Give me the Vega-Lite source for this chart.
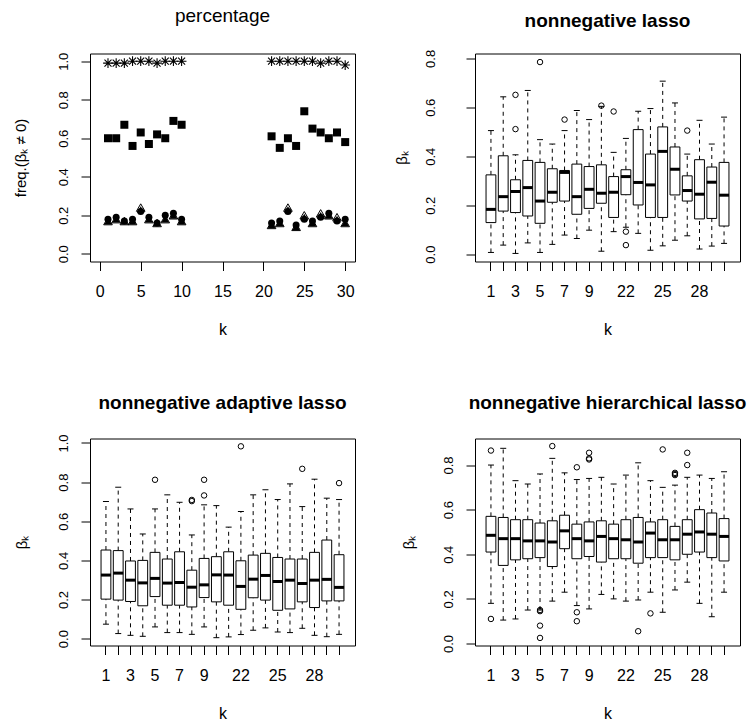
{
  "$schema": "https://vega.github.io/schema/vega-lite/v6.json",
  "background": "white",
  "autosize": {"type": "pad"},
  "padding": {"left": 12, "top": 5.5, "right": 0, "bottom": 0},
  "config": {
    "font": "Liberation Sans",
    "view": {"stroke": "black", "strokeWidth": 1, "fill": "white"},
    "axis": {"grid": false, "domain": false, "tickColor": "black", "tickSize": 9, "tickWidth": 1, "labelColor": "black", "titleColor": "black", "labelFont": "Liberation Sans", "titleFont": "Liberation Sans", "titleFontWeight": "normal", "labelFlush": false, "labelOverlap": false},
    "axisX": {"labelFontSize": 16, "labelPadding": 13, "labelBaseline": "top", "labelAngle": 0, "titleFontSize": 16, "titleY": 68, "titleBaseline": "middle"},
    "axisY": {"labelAngle": -90, "labelFontSize": 13, "labelAlign": "center", "labelBaseline": "alphabetic", "labelPadding": 14, "titleFontSize": 15, "titleX": -70, "titleBaseline": "middle", "titleAngle": -90},
    "title": {"fontSize": 19, "fontWeight": "bold", "frame": "group", "anchor": "middle", "baseline": "alphabetic", "color": "black", "font": "Liberation Sans"}
  },
  "datasets": {
    "freq": [
      {"k": 1, "series": "A", "value": 0.99}, {"k": 2, "series": "A", "value": 0.99}, {"k": 3, "series": "A", "value": 0.99}, {"k": 4, "series": "A", "value": 1.0}, {"k": 5, "series": "A", "value": 1.0},
      {"k": 6, "series": "A", "value": 1.0}, {"k": 7, "series": "A", "value": 0.99}, {"k": 8, "series": "A", "value": 1.0}, {"k": 9, "series": "A", "value": 1.0}, {"k": 10, "series": "A", "value": 1.0},
      {"k": 21, "series": "A", "value": 1.0}, {"k": 22, "series": "A", "value": 1.0}, {"k": 23, "series": "A", "value": 1.0}, {"k": 24, "series": "A", "value": 1.0}, {"k": 25, "series": "A", "value": 1.0},
      {"k": 26, "series": "A", "value": 1.0}, {"k": 27, "series": "A", "value": 0.99}, {"k": 28, "series": "A", "value": 1.0}, {"k": 29, "series": "A", "value": 1.0}, {"k": 30, "series": "A", "value": 0.98},
      {"k": 1, "series": "B", "value": 0.60}, {"k": 2, "series": "B", "value": 0.60}, {"k": 3, "series": "B", "value": 0.67}, {"k": 4, "series": "B", "value": 0.56}, {"k": 5, "series": "B", "value": 0.63},
      {"k": 6, "series": "B", "value": 0.57}, {"k": 7, "series": "B", "value": 0.62}, {"k": 8, "series": "B", "value": 0.60}, {"k": 9, "series": "B", "value": 0.69}, {"k": 10, "series": "B", "value": 0.67},
      {"k": 21, "series": "B", "value": 0.61}, {"k": 22, "series": "B", "value": 0.55}, {"k": 23, "series": "B", "value": 0.60}, {"k": 24, "series": "B", "value": 0.56}, {"k": 25, "series": "B", "value": 0.74},
      {"k": 26, "series": "B", "value": 0.65}, {"k": 27, "series": "B", "value": 0.63}, {"k": 28, "series": "B", "value": 0.60}, {"k": 29, "series": "B", "value": 0.63}, {"k": 30, "series": "B", "value": 0.58},
      {"k": 1, "series": "C", "value": 0.17}, {"k": 2, "series": "C", "value": 0.18}, {"k": 3, "series": "C", "value": 0.17}, {"k": 4, "series": "C", "value": 0.17}, {"k": 5, "series": "C", "value": 0.24},
      {"k": 6, "series": "C", "value": 0.18}, {"k": 7, "series": "C", "value": 0.16}, {"k": 8, "series": "C", "value": 0.18}, {"k": 9, "series": "C", "value": 0.20}, {"k": 10, "series": "C", "value": 0.17},
      {"k": 21, "series": "C", "value": 0.15}, {"k": 22, "series": "C", "value": 0.16}, {"k": 23, "series": "C", "value": 0.24}, {"k": 24, "series": "C", "value": 0.14}, {"k": 25, "series": "C", "value": 0.20},
      {"k": 26, "series": "C", "value": 0.16}, {"k": 27, "series": "C", "value": 0.21}, {"k": 28, "series": "C", "value": 0.20}, {"k": 29, "series": "C", "value": 0.19}, {"k": 30, "series": "C", "value": 0.16},
      {"k": 1, "series": "D", "value": 0.17}, {"k": 2, "series": "D", "value": 0.18}, {"k": 3, "series": "D", "value": 0.17}, {"k": 4, "series": "D", "value": 0.17}, {"k": 5, "series": "D", "value": 0.23},
      {"k": 6, "series": "D", "value": 0.18}, {"k": 7, "series": "D", "value": 0.16}, {"k": 8, "series": "D", "value": 0.18}, {"k": 9, "series": "D", "value": 0.20}, {"k": 10, "series": "D", "value": 0.17},
      {"k": 21, "series": "D", "value": 0.15}, {"k": 22, "series": "D", "value": 0.16}, {"k": 23, "series": "D", "value": 0.23}, {"k": 24, "series": "D", "value": 0.14}, {"k": 25, "series": "D", "value": 0.19},
      {"k": 26, "series": "D", "value": 0.16}, {"k": 27, "series": "D", "value": 0.20}, {"k": 28, "series": "D", "value": 0.20}, {"k": 29, "series": "D", "value": 0.18}, {"k": 30, "series": "D", "value": 0.16},
      {"k": 1, "series": "E", "value": 0.18}, {"k": 2, "series": "E", "value": 0.19}, {"k": 3, "series": "E", "value": 0.17}, {"k": 4, "series": "E", "value": 0.18}, {"k": 5, "series": "E", "value": 0.22},
      {"k": 6, "series": "E", "value": 0.19}, {"k": 7, "series": "E", "value": 0.16}, {"k": 8, "series": "E", "value": 0.20}, {"k": 9, "series": "E", "value": 0.21}, {"k": 10, "series": "E", "value": 0.18},
      {"k": 21, "series": "E", "value": 0.16}, {"k": 22, "series": "E", "value": 0.17}, {"k": 23, "series": "E", "value": 0.22}, {"k": 24, "series": "E", "value": 0.15}, {"k": 25, "series": "E", "value": 0.18},
      {"k": 26, "series": "E", "value": 0.17}, {"k": 27, "series": "E", "value": 0.19}, {"k": 28, "series": "E", "value": 0.21}, {"k": 29, "series": "E", "value": 0.17}, {"k": 30, "series": "E", "value": 0.18}
    ],
    "boxes": [
      {"method": "lasso", "k": 1, "lo": 0.007, "q1": 0.129, "med": 0.183, "q3": 0.324, "hi": 0.505},
      {"method": "lasso", "k": 2, "lo": 0.037, "q1": 0.176, "med": 0.235, "q3": 0.402, "hi": 0.643},
      {"method": "lasso", "k": 3, "lo": 0.003, "q1": 0.170, "med": 0.256, "q3": 0.304, "hi": 0.406},
      {"method": "lasso", "k": 4, "lo": 0.046, "q1": 0.156, "med": 0.272, "q3": 0.383, "hi": 0.669},
      {"method": "lasso", "k": 5, "lo": 0.007, "q1": 0.126, "med": 0.217, "q3": 0.375, "hi": 0.468},
      {"method": "lasso", "k": 6, "lo": 0.040, "q1": 0.212, "med": 0.253, "q3": 0.349, "hi": 0.450},
      {"method": "lasso", "k": 7, "lo": 0.078, "q1": 0.217, "med": 0.334, "q3": 0.342, "hi": 0.505},
      {"method": "lasso", "k": 8, "lo": 0.064, "q1": 0.163, "med": 0.235, "q3": 0.368, "hi": 0.587},
      {"method": "lasso", "k": 9, "lo": 0.098, "q1": 0.187, "med": 0.265, "q3": 0.358, "hi": 0.550},
      {"method": "lasso", "k": 10, "lo": 0.012, "q1": 0.208, "med": 0.249, "q3": 0.365, "hi": 0.604},
      {"method": "lasso", "k": 21, "lo": 0.092, "q1": 0.150, "med": 0.253, "q3": 0.317, "hi": 0.416},
      {"method": "lasso", "k": 22, "lo": 0.110, "q1": 0.243, "med": 0.317, "q3": 0.345, "hi": 0.473},
      {"method": "lasso", "k": 23, "lo": 0.085, "q1": 0.201, "med": 0.293, "q3": 0.509, "hi": 0.584},
      {"method": "lasso", "k": 24, "lo": 0.016, "q1": 0.150, "med": 0.283, "q3": 0.409, "hi": 0.595},
      {"method": "lasso", "k": 25, "lo": 0.034, "q1": 0.150, "med": 0.420, "q3": 0.520, "hi": 0.707},
      {"method": "lasso", "k": 26, "lo": 0.057, "q1": 0.242, "med": 0.347, "q3": 0.438, "hi": 0.618},
      {"method": "lasso", "k": 27, "lo": 0.075, "q1": 0.217, "med": 0.260, "q3": 0.320, "hi": 0.409},
      {"method": "lasso", "k": 28, "lo": 0.021, "q1": 0.144, "med": 0.245, "q3": 0.386, "hi": 0.547},
      {"method": "lasso", "k": 29, "lo": 0.033, "q1": 0.146, "med": 0.294, "q3": 0.356, "hi": 0.450},
      {"method": "lasso", "k": 30, "lo": 0.044, "q1": 0.115, "med": 0.241, "q3": 0.375, "hi": 0.560},
      {"method": "adaptive", "k": 1, "lo": 0.074, "q1": 0.202, "med": 0.325, "q3": 0.453, "hi": 0.701},
      {"method": "adaptive", "k": 2, "lo": 0.026, "q1": 0.197, "med": 0.335, "q3": 0.450, "hi": 0.774},
      {"method": "adaptive", "k": 3, "lo": 0.017, "q1": 0.190, "med": 0.299, "q3": 0.397, "hi": 0.663},
      {"method": "adaptive", "k": 4, "lo": 0.012, "q1": 0.168, "med": 0.285, "q3": 0.400, "hi": 0.535},
      {"method": "adaptive", "k": 5, "lo": 0.060, "q1": 0.215, "med": 0.308, "q3": 0.441, "hi": 0.663},
      {"method": "adaptive", "k": 6, "lo": 0.031, "q1": 0.171, "med": 0.284, "q3": 0.407, "hi": 0.735},
      {"method": "adaptive", "k": 7, "lo": 0.031, "q1": 0.171, "med": 0.287, "q3": 0.444, "hi": 0.697},
      {"method": "adaptive", "k": 8, "lo": 0.022, "q1": 0.162, "med": 0.263, "q3": 0.350, "hi": 0.530},
      {"method": "adaptive", "k": 9, "lo": 0.060, "q1": 0.210, "med": 0.275, "q3": 0.410, "hi": 0.684},
      {"method": "adaptive", "k": 10, "lo": 0.005, "q1": 0.188, "med": 0.326, "q3": 0.419, "hi": 0.680},
      {"method": "adaptive", "k": 21, "lo": 0.009, "q1": 0.171, "med": 0.325, "q3": 0.444, "hi": 0.570},
      {"method": "adaptive", "k": 22, "lo": 0.021, "q1": 0.150, "med": 0.267, "q3": 0.398, "hi": 0.650},
      {"method": "adaptive", "k": 23, "lo": 0.043, "q1": 0.209, "med": 0.304, "q3": 0.427, "hi": 0.735},
      {"method": "adaptive", "k": 24, "lo": 0.055, "q1": 0.197, "med": 0.323, "q3": 0.436, "hi": 0.761},
      {"method": "adaptive", "k": 25, "lo": 0.034, "q1": 0.145, "med": 0.292, "q3": 0.415, "hi": 0.711},
      {"method": "adaptive", "k": 26, "lo": 0.031, "q1": 0.152, "med": 0.299, "q3": 0.407, "hi": 0.791},
      {"method": "adaptive", "k": 27, "lo": 0.053, "q1": 0.188, "med": 0.282, "q3": 0.407, "hi": 0.675},
      {"method": "adaptive", "k": 28, "lo": 0.017, "q1": 0.159, "med": 0.299, "q3": 0.441, "hi": 0.815},
      {"method": "adaptive", "k": 29, "lo": 0.010, "q1": 0.193, "med": 0.303, "q3": 0.504, "hi": 0.718},
      {"method": "adaptive", "k": 30, "lo": 0.022, "q1": 0.193, "med": 0.262, "q3": 0.429, "hi": 0.711},
      {"method": "hier", "k": 1, "lo": 0.18, "q1": 0.41, "med": 0.485, "q3": 0.57, "hi": 0.80},
      {"method": "hier", "k": 2, "lo": 0.105, "q1": 0.35, "med": 0.47, "q3": 0.565, "hi": 0.875},
      {"method": "hier", "k": 3, "lo": 0.11, "q1": 0.375, "med": 0.47, "q3": 0.555, "hi": 0.73},
      {"method": "hier", "k": 4, "lo": 0.15, "q1": 0.38, "med": 0.46, "q3": 0.555, "hi": 0.715},
      {"method": "hier", "k": 5, "lo": 0.15, "q1": 0.385, "med": 0.46, "q3": 0.54, "hi": 0.76},
      {"method": "hier", "k": 6, "lo": 0.19, "q1": 0.345, "med": 0.455, "q3": 0.55, "hi": 0.83},
      {"method": "hier", "k": 7, "lo": 0.23, "q1": 0.425, "med": 0.505, "q3": 0.575, "hi": 0.765},
      {"method": "hier", "k": 8, "lo": 0.17, "q1": 0.38, "med": 0.47, "q3": 0.535, "hi": 0.735},
      {"method": "hier", "k": 9, "lo": 0.155, "q1": 0.39, "med": 0.46, "q3": 0.545, "hi": 0.74},
      {"method": "hier", "k": 10, "lo": 0.22, "q1": 0.365, "med": 0.48, "q3": 0.55, "hi": 0.745},
      {"method": "hier", "k": 21, "lo": 0.20, "q1": 0.38, "med": 0.47, "q3": 0.535, "hi": 0.715},
      {"method": "hier", "k": 22, "lo": 0.19, "q1": 0.38, "med": 0.465, "q3": 0.555, "hi": 0.755},
      {"method": "hier", "k": 23, "lo": 0.195, "q1": 0.36, "med": 0.455, "q3": 0.565, "hi": 0.81},
      {"method": "hier", "k": 24, "lo": 0.23, "q1": 0.385, "med": 0.495, "q3": 0.545, "hi": 0.73},
      {"method": "hier", "k": 25, "lo": 0.14, "q1": 0.385, "med": 0.465, "q3": 0.555, "hi": 0.70},
      {"method": "hier", "k": 26, "lo": 0.24, "q1": 0.375, "med": 0.465, "q3": 0.525, "hi": 0.71},
      {"method": "hier", "k": 27, "lo": 0.275, "q1": 0.40, "med": 0.49, "q3": 0.555, "hi": 0.745},
      {"method": "hier", "k": 28, "lo": 0.18, "q1": 0.41, "med": 0.50, "q3": 0.60, "hi": 0.755},
      {"method": "hier", "k": 29, "lo": 0.12, "q1": 0.385, "med": 0.49, "q3": 0.585, "hi": 0.74},
      {"method": "hier", "k": 30, "lo": 0.23, "q1": 0.37, "med": 0.48, "q3": 0.56, "hi": 0.77}
    ],
    "outliers": [
      {"method": "lasso", "k": 3, "value": 0.651}, {"method": "lasso", "k": 3, "value": 0.511},
      {"method": "lasso", "k": 5, "value": 0.785}, {"method": "lasso", "k": 7, "value": 0.550},
      {"method": "lasso", "k": 10, "value": 0.607}, {"method": "lasso", "k": 21, "value": 0.583},
      {"method": "lasso", "k": 22, "value": 0.092}, {"method": "lasso", "k": 22, "value": 0.037},
      {"method": "lasso", "k": 27, "value": 0.505},
      {"method": "adaptive", "k": 5, "value": 0.812}, {"method": "adaptive", "k": 8, "value": 0.709},
      {"method": "adaptive", "k": 8, "value": 0.703}, {"method": "adaptive", "k": 9, "value": 0.812},
      {"method": "adaptive", "k": 9, "value": 0.732}, {"method": "adaptive", "k": 22, "value": 0.983},
      {"method": "adaptive", "k": 27, "value": 0.868}, {"method": "adaptive", "k": 30, "value": 0.795},
      {"method": "hier", "k": 1, "value": 0.865}, {"method": "hier", "k": 1, "value": 0.11},
      {"method": "hier", "k": 5, "value": 0.145}, {"method": "hier", "k": 5, "value": 0.15},
      {"method": "hier", "k": 5, "value": 0.08}, {"method": "hier", "k": 5, "value": 0.025},
      {"method": "hier", "k": 6, "value": 0.885}, {"method": "hier", "k": 8, "value": 0.79},
      {"method": "hier", "k": 8, "value": 0.14}, {"method": "hier", "k": 8, "value": 0.10},
      {"method": "hier", "k": 9, "value": 0.855}, {"method": "hier", "k": 9, "value": 0.83},
      {"method": "hier", "k": 9, "value": 0.825}, {"method": "hier", "k": 23, "value": 0.055},
      {"method": "hier", "k": 24, "value": 0.135}, {"method": "hier", "k": 25, "value": 0.87},
      {"method": "hier", "k": 26, "value": 0.765}, {"method": "hier", "k": 26, "value": 0.76},
      {"method": "hier", "k": 26, "value": 0.755}, {"method": "hier", "k": 27, "value": 0.855},
      {"method": "hier", "k": 27, "value": 0.80}
    ]
  },
  "columns": 2,
  "spacing": {"row": 177, "column": 120},
  "bounds": "flush",
  "concat": [
    {
      "title": {"text": "percentage", "fontWeight": "normal", "offset": 26.5},
      "width": 265, "height": 208,
      "data": {"name": "freq"},
      "encoding": {
        "x": {"field": "k", "type": "quantitative", "scale": {"domain": [-1.2, 31.2], "nice": false, "zero": false}, "axis": {"values": [0, 5, 10, 15, 20, 25, 30], "title": "k"}},
        "y": {"field": "value", "type": "quantitative", "scale": {"domain": [-0.04, 1.04], "nice": false, "zero": false}, "axis": {"values": [0, 0.2, 0.4, 0.6, 0.8, 1], "format": ".1f", "title": "freq.(βₖ ≠ 0)"}}
      },
      "layer": [
        {"transform": [{"filter": "datum.series === 'A'"}], "mark": {"type": "point", "shape": "M-1,0L1,0M0,-1L0,1M-0.72,-0.72L0.72,0.72M-0.72,0.72L0.72,-0.72", "size": 95, "filled": false, "stroke": "black", "strokeWidth": 1.1, "opacity": 1}},
        {"transform": [{"filter": "datum.series === 'B'"}], "mark": {"type": "point", "shape": "square", "size": 64, "filled": true, "fill": "black", "opacity": 1}},
        {"transform": [{"filter": "datum.series === 'C'"}], "mark": {"type": "point", "shape": "triangle-up", "size": 75, "filled": false, "stroke": "black", "strokeWidth": 1, "opacity": 1}},
        {"transform": [{"filter": "datum.series === 'D'"}], "mark": {"type": "point", "shape": "triangle-up", "size": 60, "filled": true, "fill": "black", "opacity": 1}},
        {"transform": [{"filter": "datum.series === 'E'"}], "mark": {"type": "point", "shape": "circle", "size": 49, "filled": true, "fill": "black", "opacity": 1}}
      ]
    },
    {
      "title": {"text": "nonnegative lasso", "offset": 18},
      "width": 265, "height": 208,
      "encoding": {
        "x": {"field": "k", "type": "ordinal", "scale": {"type": "band", "domain": [1,2,3,4,5,6,7,8,9,10,21,22,23,24,25,26,27,28,29,30], "paddingInner": 0.2, "paddingOuter": 0.9}, "axis": {"title": "k", "labelExpr": "indexof([1,3,5,7,9,22,25,28], datum.value) >= 0 ? datum.label : ''"}}
      },
      "layer": [
        {
          "data": {"name": "boxes"},
          "transform": [{"filter": "datum.method === 'lasso'"}],
          "layer": [
            {"mark": {"type": "rule", "color": "black", "strokeDash": [4, 4]}, "encoding": {"y": {"field": "q3", "type": "quantitative", "title": "βₖ", "scale": {"domain": [-0.03, 0.82], "nice": false, "zero": false}, "axis": {"values": [0, 0.2, 0.4, 0.6, 0.8], "format": ".1f", "labelPadding": 32, "titleX": -74}}, "y2": {"field": "hi"}}},
            {"mark": {"type": "rule", "color": "black", "strokeDash": [4, 4]}, "encoding": {"y": {"field": "lo", "type": "quantitative", "title": "βₖ"}, "y2": {"field": "q1"}}},
            {"mark": {"type": "tick", "color": "black", "size": 6, "thickness": 1, "opacity": 1}, "encoding": {"y": {"field": "hi", "type": "quantitative", "title": "βₖ"}}},
            {"mark": {"type": "tick", "color": "black", "size": 6, "thickness": 1, "opacity": 1}, "encoding": {"y": {"field": "lo", "type": "quantitative", "title": "βₖ"}}},
            {"mark": {"type": "bar", "fill": "white", "stroke": "black", "strokeWidth": 1}, "encoding": {"y": {"field": "q1", "type": "quantitative", "title": "βₖ"}, "y2": {"field": "q3"}}},
            {"mark": {"type": "tick", "color": "black", "size": 10, "thickness": 3, "opacity": 1}, "encoding": {"y": {"field": "med", "type": "quantitative", "title": "βₖ"}}}
          ]
        },
        {
          "data": {"name": "outliers"},
          "transform": [{"filter": "datum.method === 'lasso'"}],
          "mark": {"type": "point", "shape": "circle", "size": 30, "filled": false, "stroke": "black", "strokeWidth": 1, "opacity": 1},
          "encoding": {"y": {"field": "value", "type": "quantitative", "title": "βₖ"}}
        }
      ]
    },
    {
      "title": {"text": "nonnegative adaptive lasso", "offset": 21},
      "width": 265, "height": 207,
      "encoding": {
        "x": {"field": "k", "type": "ordinal", "scale": {"type": "band", "domain": [1,2,3,4,5,6,7,8,9,10,21,22,23,24,25,26,27,28,29,30], "paddingInner": 0.2, "paddingOuter": 0.9}, "axis": {"title": "k", "labelExpr": "indexof([1,3,5,7,9,22,25,28], datum.value) >= 0 ? datum.label : ''"}}
      },
      "layer": [
        {
          "data": {"name": "boxes"},
          "transform": [{"filter": "datum.method === 'adaptive'"}],
          "layer": [
            {"mark": {"type": "rule", "color": "black", "strokeDash": [4, 4]}, "encoding": {"y": {"field": "q3", "type": "quantitative", "title": "βₖ", "scale": {"domain": [-0.035, 1.023], "nice": false, "zero": false}, "axis": {"values": [0, 0.2, 0.4, 0.6, 0.8, 1], "format": ".1f", "titleX": -69}}, "y2": {"field": "hi"}}},
            {"mark": {"type": "rule", "color": "black", "strokeDash": [4, 4]}, "encoding": {"y": {"field": "lo", "type": "quantitative", "title": "βₖ"}, "y2": {"field": "q1"}}},
            {"mark": {"type": "tick", "color": "black", "size": 6, "thickness": 1, "opacity": 1}, "encoding": {"y": {"field": "hi", "type": "quantitative", "title": "βₖ"}}},
            {"mark": {"type": "tick", "color": "black", "size": 6, "thickness": 1, "opacity": 1}, "encoding": {"y": {"field": "lo", "type": "quantitative", "title": "βₖ"}}},
            {"mark": {"type": "bar", "fill": "white", "stroke": "black", "strokeWidth": 1}, "encoding": {"y": {"field": "q1", "type": "quantitative", "title": "βₖ"}, "y2": {"field": "q3"}}},
            {"mark": {"type": "tick", "color": "black", "size": 10, "thickness": 3, "opacity": 1}, "encoding": {"y": {"field": "med", "type": "quantitative", "title": "βₖ"}}}
          ]
        },
        {
          "data": {"name": "outliers"},
          "transform": [{"filter": "datum.method === 'adaptive'"}],
          "mark": {"type": "point", "shape": "circle", "size": 30, "filled": false, "stroke": "black", "strokeWidth": 1, "opacity": 1},
          "encoding": {"y": {"field": "value", "type": "quantitative", "title": "βₖ"}}
        }
      ]
    },
    {
      "title": {"text": "nonnegative hierarchical lasso", "offset": 26},
      "width": 265, "height": 207,
      "encoding": {
        "x": {"field": "k", "type": "ordinal", "scale": {"type": "band", "domain": [1,2,3,4,5,6,7,8,9,10,21,22,23,24,25,26,27,28,29,30], "paddingInner": 0.2, "paddingOuter": 0.9}, "axis": {"title": "k", "labelExpr": "indexof([1,3,5,7,9,22,25,28], datum.value) >= 0 ? datum.label : ''"}}
      },
      "layer": [
        {
          "data": {"name": "boxes"},
          "transform": [{"filter": "datum.method === 'hier'"}],
          "layer": [
            {"mark": {"type": "rule", "color": "black", "strokeDash": [4, 4]}, "encoding": {"y": {"field": "q3", "type": "quantitative", "title": "βₖ", "scale": {"domain": [-0.009, 0.919], "nice": false, "zero": false}, "axis": {"values": [0, 0.2, 0.4, 0.6, 0.8], "format": ".1f", "titleX": -67}}, "y2": {"field": "hi"}}},
            {"mark": {"type": "rule", "color": "black", "strokeDash": [4, 4]}, "encoding": {"y": {"field": "lo", "type": "quantitative", "title": "βₖ"}, "y2": {"field": "q1"}}},
            {"mark": {"type": "tick", "color": "black", "size": 6, "thickness": 1, "opacity": 1}, "encoding": {"y": {"field": "hi", "type": "quantitative", "title": "βₖ"}}},
            {"mark": {"type": "tick", "color": "black", "size": 6, "thickness": 1, "opacity": 1}, "encoding": {"y": {"field": "lo", "type": "quantitative", "title": "βₖ"}}},
            {"mark": {"type": "bar", "fill": "white", "stroke": "black", "strokeWidth": 1}, "encoding": {"y": {"field": "q1", "type": "quantitative", "title": "βₖ"}, "y2": {"field": "q3"}}},
            {"mark": {"type": "tick", "color": "black", "size": 10, "thickness": 3, "opacity": 1}, "encoding": {"y": {"field": "med", "type": "quantitative", "title": "βₖ"}}}
          ]
        },
        {
          "data": {"name": "outliers"},
          "transform": [{"filter": "datum.method === 'hier'"}],
          "mark": {"type": "point", "shape": "circle", "size": 30, "filled": false, "stroke": "black", "strokeWidth": 1, "opacity": 1},
          "encoding": {"y": {"field": "value", "type": "quantitative", "title": "βₖ"}}
        }
      ]
    }
  ]
}
